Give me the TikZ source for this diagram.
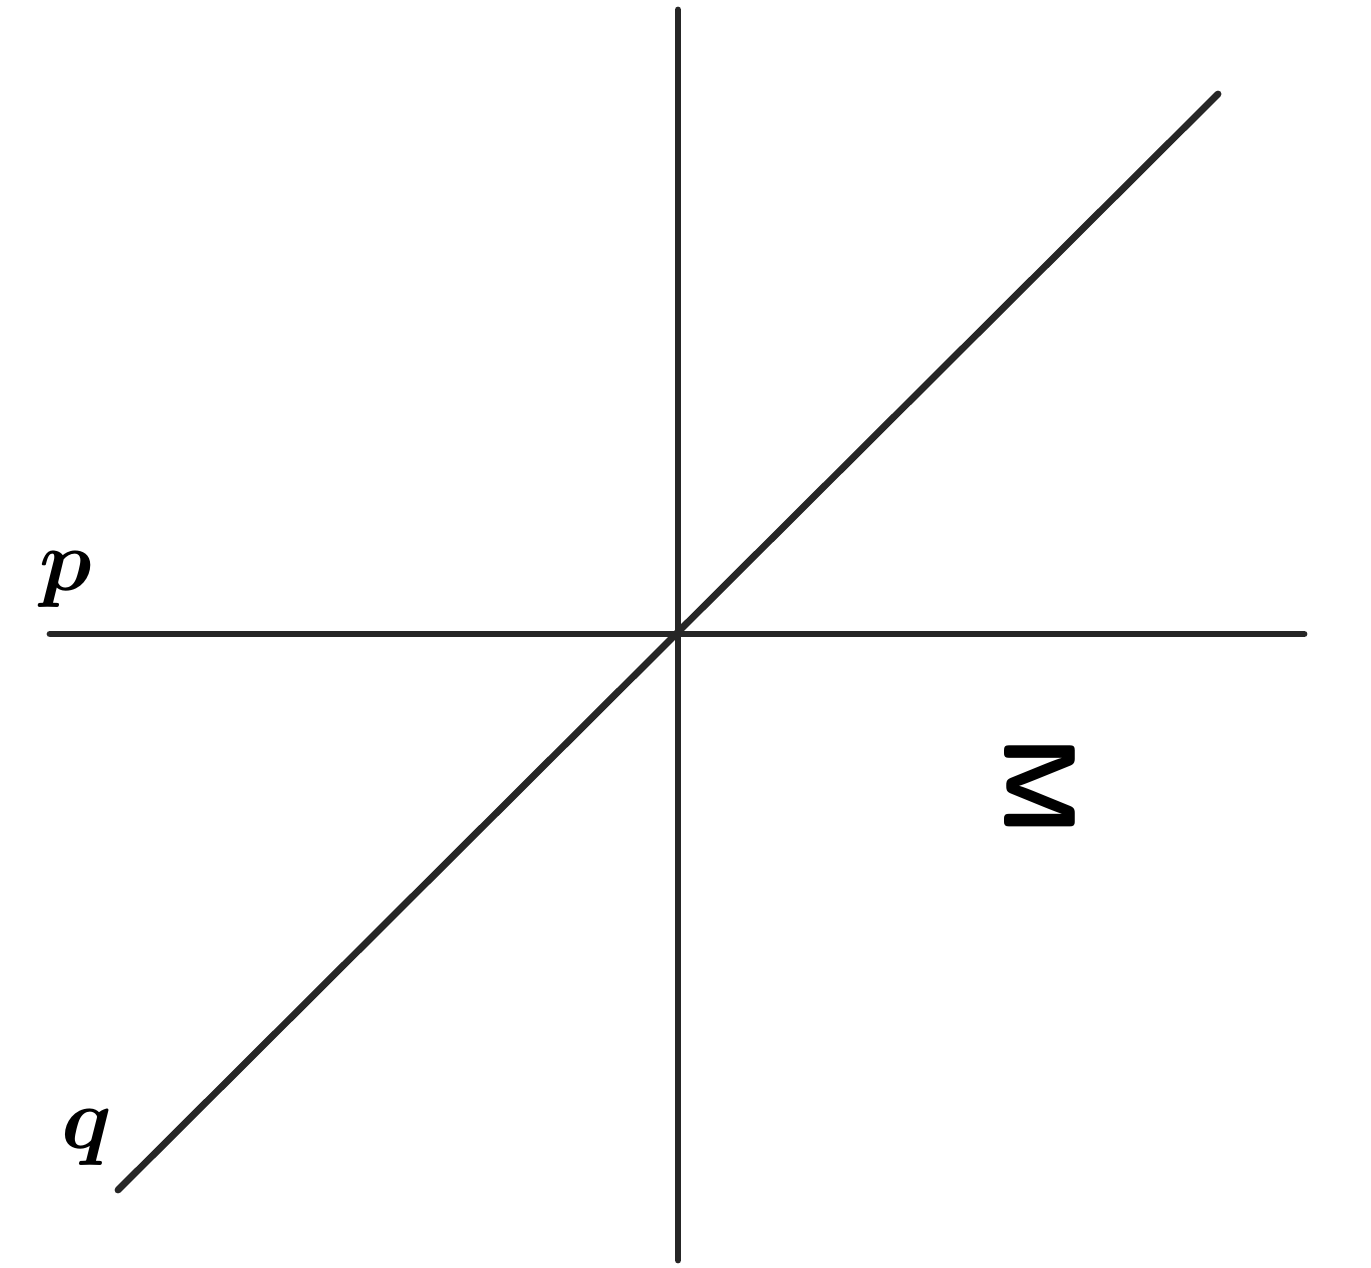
\documentclass[tikz,border=0pt]{standalone}
\usepackage{bm}
\begin{document}
\begin{tikzpicture}[x=0.01cm,y=-0.01cm,
  axis/.style={line width=1.95pt,draw=black!85,line cap=round},
  lbl/.style={inner sep=0pt,font=\fontsize{31}{37}\selectfont}]
\useasboundingbox (0,0) rectangle (1371,1267);
\coordinate (O) at (678,634);
\coordinate (vt) at (678,10);
\coordinate (vb) at (678,1260);
\coordinate (hl) at (50,634);
\coordinate (hr) at (1304,634);
\coordinate (dl) at (118,1190);
\coordinate (dr) at (1218,94);
\draw[axis] (vt) -- (vb);
\draw[axis] (hl) -- (hr);
\draw[axis] (dl) -- (dr);
\node[lbl] (p) at (66,580) {$\bm{p}$};
\node[lbl] (q) at (87,1138) {$\bm{q}$};
\node[lbl,rotate=-90,font=\fontsize{29}{35}\selectfont\sffamily\bfseries] (M) at (1040,786) {M};
\end{tikzpicture}
\end{document}
